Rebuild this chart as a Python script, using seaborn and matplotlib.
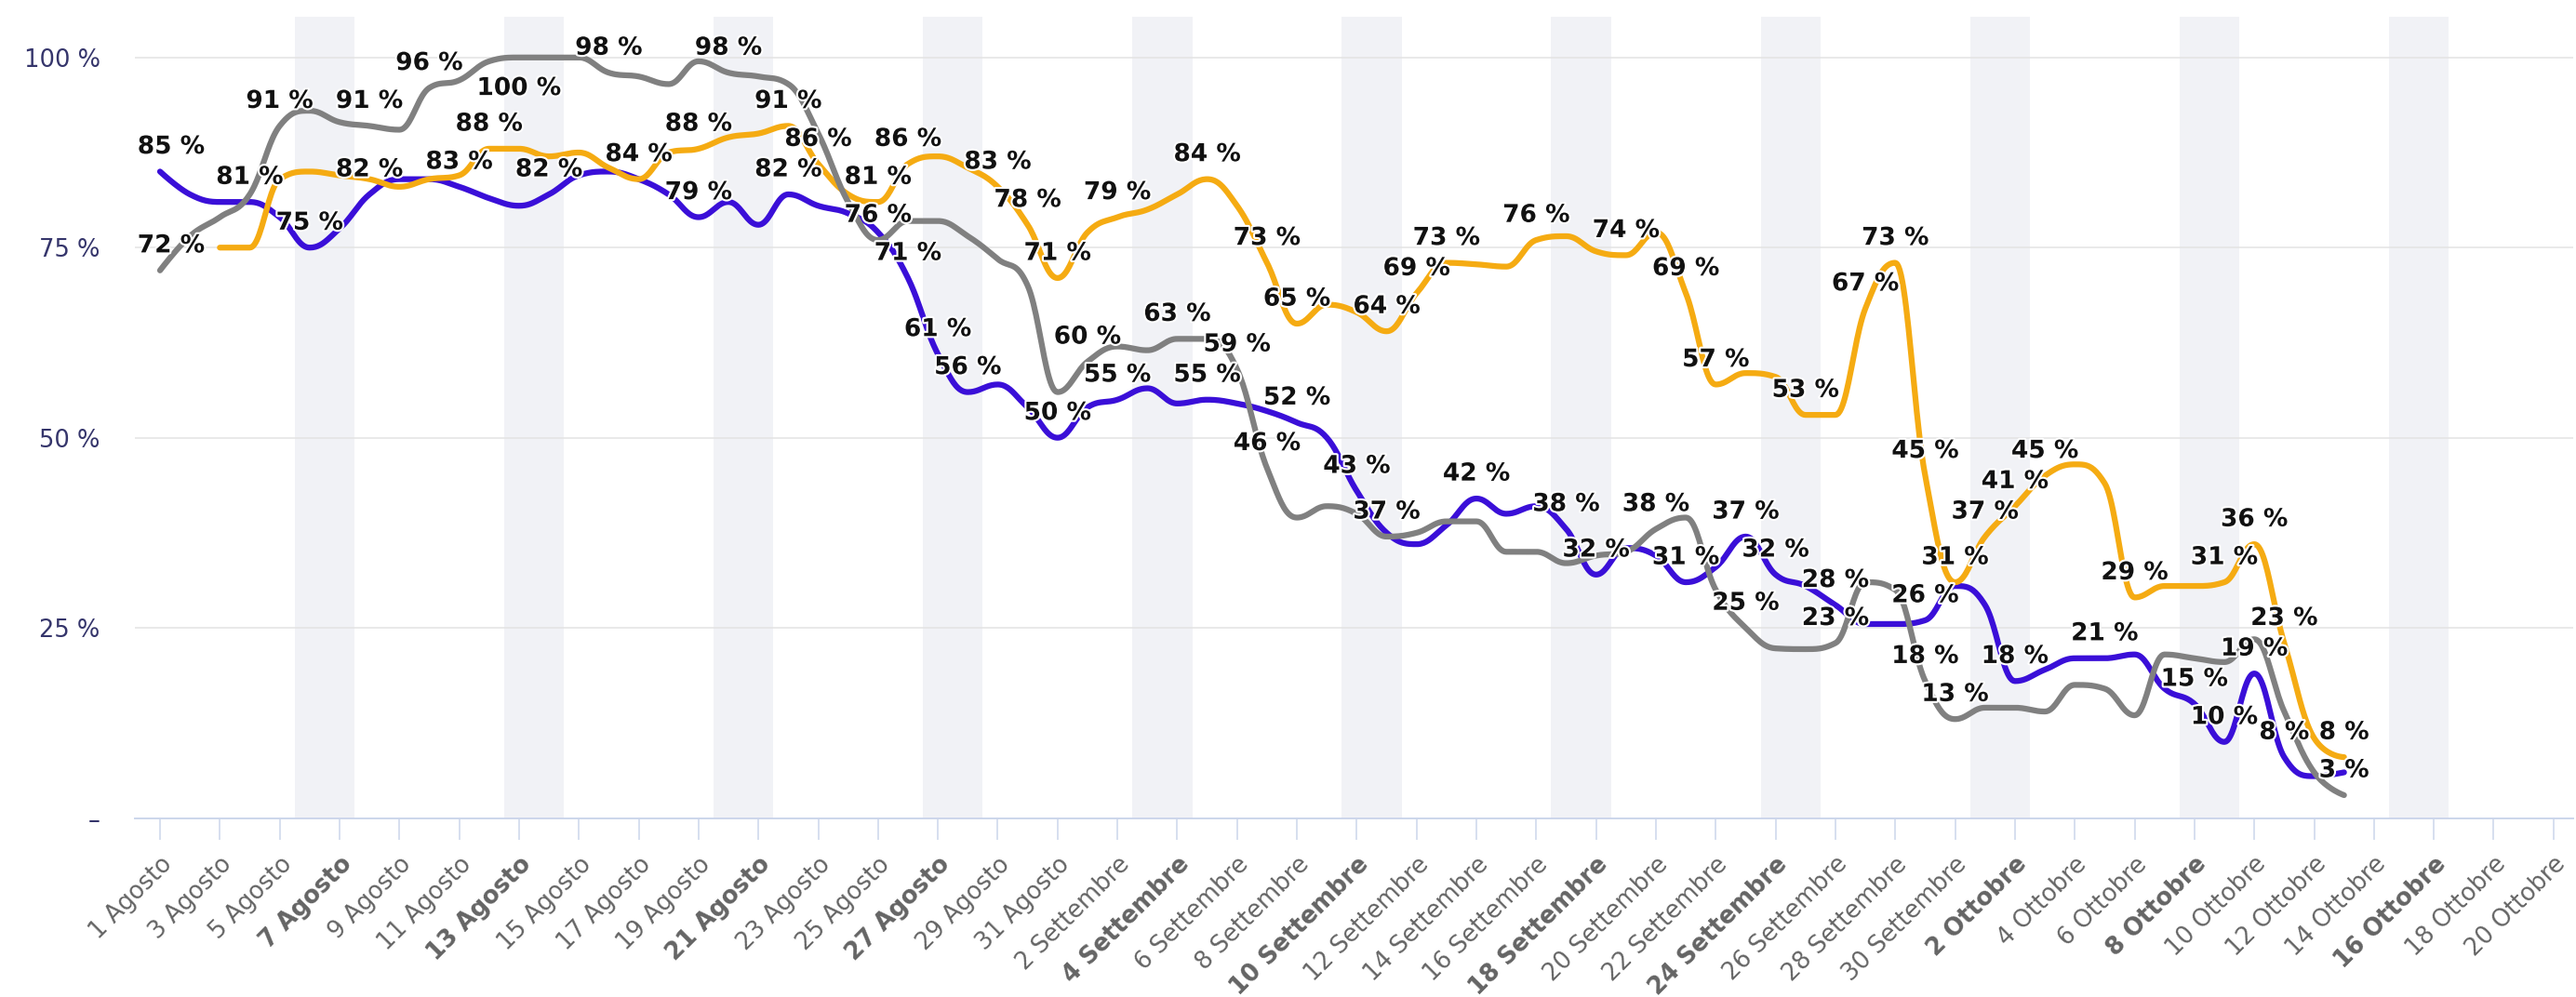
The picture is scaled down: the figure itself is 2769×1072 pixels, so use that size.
import numpy as np
import pandas as pd
import seaborn as sns
import matplotlib
matplotlib.use("Agg")
import matplotlib.pyplot as plt
import matplotlib.patheffects as pe

# ---------------- data (day index 0 = 1 Agosto) ----------------
days = list(range(74))

purple = [85, 82, 81, 81, 79, 75, 77.5, 82, 84, 84,
          83, 81.5, 80.5, 82, 84.5, 85, 84, 82, 79, 81,
          78, 82, 80.5, 79.5, 77, 71, 61, 56, 57, 54,
          50, 54, 55, 56.5, 54.5, 55, 54.5, 53.5, 52, 50,
          43, 37.5, 36, 38.5, 42, 40, 41, 38, 32, 35.5,
          34.5, 31, 33, 37, 32, 30.5, 28, 25.5, 25.5, 26,
          30.5, 28, 18, 19.5, 21, 21, 21.5, 17, 15, 10,
          19, 8, 5.5, 6]

orange = [None, None, 75, 75, 84, 85, 84.5, 84, 83, 84,
          84.5, 88, 88, 87, 87.5, 85.5, 84, 87.5, 88, 89.5,
          90, 91, 86, 82, 81, 86, 87, 85.5, 83, 78,
          71, 77, 79, 80, 82, 84, 80.5, 73, 65, 67.5,
          66.5, 64, 69, 73, 72.8, 72.5, 76, 76.5, 74.5, 74,
          77, 69, 57, 58.5, 58, 53, 53, 67, 73, 45,
          31, 37, 41, 45, 46.5, 44, 29, 30.5, 30.5, 31,
          36, 23, 10.5, 8]

gray = [72, 76.5, 79, 82, 91, 93, 91.5, 91, 90.5, 96,
        97, 99.5, 100, 100, 100, 98, 97.5, 96.5, 99.5, 98,
        97.5, 96.5, 90, 81, 76, 78.5, 78.5, 76.5, 73.5, 70,
        56, 60, 62, 61.5, 63, 63, 59, 46, 39.5, 41,
        40, 37, 37.5, 39, 39, 35, 35, 33.5, 34.5, 35,
        38, 39.5, 30, 25, 22.3, 22.2, 23, 31, 30, 18,
        13, 14.5, 14.5, 14, 17.5, 17, 13.5, 21.5, 21, 20.5,
        23.5, 14, 6, 3]

# days whose value carries a visible data label
purple_labelled = [0, 3, 5, 7, 10, 13, 16, 18, 21, 25, 26, 27, 30, 32, 35, 38, 40,
                   44, 47, 48, 51, 53, 54, 56, 59, 62, 65, 68, 69, 70, 71]
gray_labelled = [0, 4, 7, 9, 12, 15, 19, 24, 31, 34, 36, 37, 41, 50, 53, 56, 59, 60, 73]
orange_labelled = [11, 18, 21, 22, 24, 25, 28, 29, 30, 32, 35, 37, 38, 41, 42, 43, 46,
                   49, 51, 52, 55, 57, 58, 59, 60, 61, 62, 63, 66, 69, 70, 71, 73]

tick_days = list(range(0, 81, 2))
tick_labels = ["1 Agosto", "3 Agosto", "5 Agosto", "7 Agosto", "9 Agosto", "11 Agosto",
               "13 Agosto", "15 Agosto", "17 Agosto", "19 Agosto", "21 Agosto", "23 Agosto",
               "25 Agosto", "27 Agosto", "29 Agosto", "31 Agosto", "2 Settembre",
               "4 Settembre", "6 Settembre", "8 Settembre", "10 Settembre", "12 Settembre",
               "14 Settembre", "16 Settembre", "18 Settembre", "20 Settembre", "22 Settembre",
               "24 Settembre", "26 Settembre", "28 Settembre", "30 Settembre", "2 Ottobre",
               "4 Ottobre", "6 Ottobre", "8 Ottobre", "10 Ottobre", "12 Ottobre",
               "14 Ottobre", "16 Ottobre", "18 Ottobre", "20 Ottobre"]
bold_labels = ["7 Agosto", "13 Agosto", "21 Agosto", "27 Agosto", "4 Settembre",
               "10 Settembre", "18 Settembre", "24 Settembre", "2 Ottobre", "8 Ottobre",
               "16 Ottobre"]
# weekend bands (first day of each Sat+Sun pair)
weekend_starts = [5, 12, 19, 26, 33, 40, 47, 54, 61, 68, 75]

y_ticks = [0, 25, 50, 75, 100]
y_tick_labels = ["\u2013", "25 %", "50 %", "75 %", "100 %"]

COLORS = {"purple": "#3a0fd8", "orange": "#f5ab12", "gray": "#808080"}

# ---------------- helpers ----------------
def hc_spline(xv, yv, smoothing=1.5, steps=24):
    """Highcharts-style spline path through the points."""
    xv = np.asarray(xv, float)
    yv = np.asarray(yv, float)
    n = len(xv)
    lcx, lcy = xv.copy(), yv.copy()
    rcx, rcy = xv.copy(), yv.copy()
    den = smoothing + 1
    for i in range(1, n - 1):
        px, py = xv[i], yv[i]
        lx, ly = xv[i - 1], yv[i - 1]
        nx, ny = xv[i + 1], yv[i + 1]
        a_x = (smoothing * px + lx) / den
        a_y = (smoothing * py + ly) / den
        b_x = (smoothing * px + nx) / den
        b_y = (smoothing * py + ny) / den
        corr = 0.0
        if b_x != a_x:
            corr = (b_y - a_y) * (b_x - px) / (b_x - a_x) + py - b_y
        a_y += corr
        b_y += corr
        if a_y > ly and a_y > py:
            a_y = max(ly, py); b_y = 2 * py - a_y
        elif a_y < ly and a_y < py:
            a_y = min(ly, py); b_y = 2 * py - a_y
        if b_y > ny and b_y > py:
            b_y = max(ny, py); a_y = 2 * py - b_y
        elif b_y < ny and b_y < py:
            b_y = min(ny, py); a_y = 2 * py - b_y
        lcx[i], lcy[i], rcx[i], rcy[i] = a_x, a_y, b_x, b_y
    t = np.linspace(0, 1, steps)[:, None]
    out = []
    for i in range(n - 1):
        P = np.array([[xv[i], yv[i]], [rcx[i], rcy[i]],
                      [lcx[i + 1], lcy[i + 1]], [xv[i + 1], yv[i + 1]]])
        seg = ((1 - t) ** 3) * P[0] + 3 * ((1 - t) ** 2) * t * P[1] + \
              3 * (1 - t) * (t ** 2) * P[2] + (t ** 3) * P[3]
        out.append(seg if i == 0 else seg[1:])
    out = np.vstack(out)
    return out[:, 0], out[:, 1]


# ---------------- figure ----------------
sns.set_theme(style="white")
plt.rcParams["font.family"] = ["DejaVu Sans"]

W, H = 2769, 1072
fig = plt.figure(figsize=(W / 100, H / 100), dpi=100)
ax_left, ax_right, ax_bottom, ax_top = 145, 2766, 879.5, 18
ax = fig.add_axes([ax_left / W, 1 - ax_bottom / H, (ax_right - ax_left) / W,
                   (ax_bottom - ax_top) / H])

px_per_day = 32.16
px_per_pct = 8.177
x0 = (ax_left - 172) / px_per_day
x1 = (ax_right - 172) / px_per_day
ymax = (ax_bottom - ax_top) / px_per_pct
ax.set_xlim(x0, x1)
ax.set_ylim(0, ymax)

# weekend bands
for d in weekend_starts:
    ax.axvspan(d - 0.5, d + 1.5, color="#f1f2f6", zorder=0, lw=0)

# grid lines
for yv in y_ticks[1:]:
    ax.axhline(yv, color="#e3e3e3", lw=1.1, zorder=0.5)

frames = {
    "purple": pd.DataFrame({"day": days, "value": purple}),
    "orange": pd.DataFrame({"day": days, "value": orange}),
    "gray": pd.DataFrame({"day": days, "value": gray}),
}
labelled = {"purple": purple_labelled, "orange": orange_labelled, "gray": gray_labelled}

for z, name in enumerate(["purple", "orange", "gray"]):
    df = frames[name].dropna()
    sx, sy = hc_spline(df["day"].values, df["value"].astype(float).values)
    sns.lineplot(x=sx, y=sy, ax=ax, color=COLORS[name], lw=4.5, sort=False,
                 estimator=None, zorder=2 + z * 0.1, solid_capstyle="round")

outline = [pe.withStroke(linewidth=3, foreground="white")]
for name in ["purple", "orange", "gray"]:
    df = frames[name].set_index("day")
    for d in labelled[name]:
        v = df.loc[d, "value"]
        txt = f"{v:.0f} %"
        # distance (px) from the plot top to the point
        from_top = (ymax - v) * px_per_pct
        dy = 19 if from_top - 41 >= 10 else -24   # flip inside when no room above
        if d == 0:
            xy, dx, ha = (x0, v), 2, "left"
        else:
            xy, dx, ha = (d, v), 0, "center"
        ax.annotate(txt, xy=xy, xytext=(dx, dy), textcoords="offset points",
                    ha=ha, va="center", fontsize=19, fontweight="bold",
                    color="#111111", zorder=5, path_effects=outline)

# axes styling
for s in ["top", "right", "left"]:
    ax.spines[s].set_visible(False)
ax.spines["bottom"].set_color("#ccd6eb")
ax.spines["bottom"].set_linewidth(1.4)
ax.spines["bottom"].set_zorder(3)

ax.set_yticks(y_ticks)
ax.set_yticklabels(y_tick_labels)
ax.tick_params(axis="y", length=0, pad=27, labelsize=18.5, labelcolor="#35356b")

ax.set_xticks(tick_days)
ax.set_xticklabels(tick_labels)
ax.tick_params(axis="x", direction="out", length=16.5, width=1.1, color="#ccd6eb",
               pad=10, labelsize=18.5, labelcolor="#646464", bottom=True)
for lab in ax.get_xticklabels():
    lab.set_rotation(45)
    lab.set_ha("right")
    lab.set_va("top")
    lab.set_rotation_mode("anchor")
    if lab.get_text() in bold_labels:
        lab.set_fontweight("bold")

ax.set_xlabel("")
ax.set_ylabel("")
ax.grid(False)

fig.savefig("out.png", dpi=100, facecolor="white")
